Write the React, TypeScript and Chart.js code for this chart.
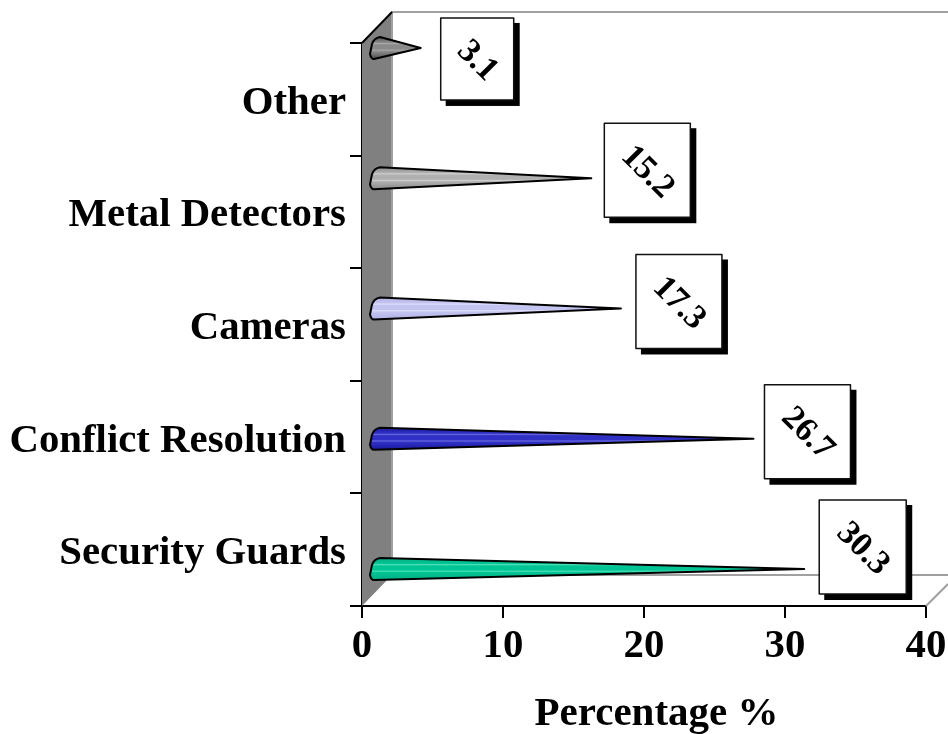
import React, { useEffect, useRef } from "react";
import { Chart, registerables } from "chart.js";

Chart.register(...registerables);

const categories = ["Other", "Metal Detectors", "Cameras", "Conflict Resolution", "Security Guards"];
const percentages = [3.1, 15.2, 17.3, 26.7, 30.3];
const valueLabels = ["3.1", "15.2", "17.3", "26.7", "30.3"];
const coneSlots = [4, 3, 2, 1, 0];
const xTicks = [0, 10, 20, 30, 40];
const axisTitle = "Percentage %";
const coneColors = [
  ["#4e4e4e", "#8a8a8a", "#a8a8a8"],
  ["#8a8a8a", "#b0b0b0", "#d0d0d0"],
  ["#b0b0e4", "#c4c4f0", "#e0e0fa"],
  ["#1a1aa0", "#3030c4", "#6a6ae0"],
  ["#00b084", "#00c494", "#50e0b8"],
];

const FONT = '"Liberation Serif", "Times New Roman", serif';
const DEPTH_X = 30;
const DEPTH_Y = 31;
const CONE_SHIFT = 15;
const boxSizes = [[73, 82], [86, 94], [86, 94], [86, 94], [87, 94]];
const boxOffsets = [[20, 11], [13, -8], [15, -7], [11, -7], [15, -22]];

const sceneryPlugin = {
  id: "scenery",
  beforeDraw(chart: any) {
    const yItems = chart.scales.y.getLabelItems();
    yItems.forEach((item: any) => { item.textOffset = 4; });
  },
  beforeDatasetsDraw(chart: any) {
    const { ctx, chartArea: a, width } = chart;
    const x0 = a.left, y0 = a.bottom, top = a.top;
    ctx.save();
    ctx.fillStyle = "#808080";
    ctx.beginPath();
    ctx.moveTo(x0, top);
    ctx.lineTo(x0 + DEPTH_X, top - DEPTH_Y);
    ctx.lineTo(x0 + DEPTH_X, y0 - DEPTH_Y);
    ctx.lineTo(x0, y0);
    ctx.closePath();
    ctx.fill();
    ctx.strokeStyle = "#a0a0a0";
    ctx.lineWidth = 2;
    ctx.beginPath();
    ctx.moveTo(x0 + DEPTH_X, y0 - DEPTH_Y);
    ctx.lineTo(x0 + DEPTH_X, top - DEPTH_Y);
    ctx.lineTo(width, top - DEPTH_Y);
    ctx.moveTo(x0 + DEPTH_X, y0 - DEPTH_Y);
    ctx.lineTo(width, y0 - DEPTH_Y);
    ctx.moveTo(a.right, y0);
    ctx.lineTo(width, y0 - 22);
    ctx.stroke();
    ctx.strokeStyle = "#000";
    ctx.beginPath();
    ctx.moveTo(x0, top);
    ctx.lineTo(x0 + DEPTH_X, top - DEPTH_Y);
    ctx.stroke();
    ctx.restore();
  },
  afterDatasetsDraw(chart: any) {
    const { ctx, chartArea: a } = chart;
    const meta = chart.getDatasetMeta(0);
    ctx.save();
    meta.data.forEach((bar: any, i: number) => {
      const tipX = bar.x + CONE_SHIFT;
      const cy = bar.y;
      const startX = a.left + 8;
      const grad = ctx.createLinearGradient(0, cy - 11, 0, cy + 11);
      const [dark, mid, light] = coneColors[i];
      grad.addColorStop(0, dark);
      grad.addColorStop(0.25, mid);
      grad.addColorStop(0.3, light);
      grad.addColorStop(0.36, mid);
      grad.addColorStop(0.55, mid);
      grad.addColorStop(0.6, light);
      grad.addColorStop(0.66, mid);
      grad.addColorStop(1, dark);
      ctx.fillStyle = grad;
      ctx.strokeStyle = "#000";
      ctx.lineWidth = 2;
      ctx.lineJoin = "round";
      ctx.beginPath();
      ctx.moveTo(tipX, cy);
      ctx.lineTo(startX + 10, cy - 11);
      ctx.quadraticCurveTo(startX + 4, cy - 10, startX + 2, cy - 4);
      ctx.lineTo(startX, cy + 6);
      ctx.quadraticCurveTo(startX + 1, cy + 11, startX + 4, cy + 11);
      ctx.closePath();
      ctx.fill();
      ctx.stroke();

      const [bw, bh] = boxSizes[i];
      const [ox, oy] = boxOffsets[i];
      const left = tipX + ox;
      const bcy = cy + oy;
      const topY = bcy - bh / 2;
      ctx.fillStyle = "#000";
      ctx.fillRect(left + 5, topY + 5, bw + 1, bh + 1);
      ctx.fillStyle = "#fff";
      ctx.fillRect(left, topY, bw, bh);
      ctx.lineWidth = 1.5;
      ctx.strokeStyle = "#111";
      ctx.strokeRect(left, topY, bw, bh);
      ctx.save();
      ctx.translate(left + bw / 2, bcy + 2);
      ctx.rotate(Math.PI / 4);
      ctx.fillStyle = "#000";
      ctx.font = `bold 34px ${FONT}`;
      ctx.textAlign = "center";
      ctx.textBaseline = "middle";
      ctx.fillText(valueLabels[i], 0, 0);
      ctx.restore();
    });
    ctx.fillStyle = "#000";
    ctx.font = `bold 41px ${FONT}`;
    ctx.textAlign = "center";
    ctx.textBaseline = "middle";
    ctx.fillText(axisTitle, 656.5, 714);
    ctx.restore();
  },
};

export default function App() {
  const ref = useRef<HTMLCanvasElement>(null);
  useEffect(() => {
    const chart = new Chart(ref.current as HTMLCanvasElement, {
      type: "bar",
      data: {
        datasets: [
          {
            label: axisTitle,
            data: percentages.map((v, i) => ({ x: v, y: coneSlots[i] })),
            xAxisID: "x",
            yAxisID: "yCone",
            backgroundColor: "rgba(0,0,0,0)",
            borderWidth: 0,
          },
        ],
      },
      options: {
        indexAxis: "y",
        animation: false,
        responsive: false,
        layout: { padding: { top: 43, right: 22, left: 0, bottom: 0 } },
        plugins: { legend: { display: false }, tooltip: { enabled: false }, title: { display: false } },
        scales: {
          x: {
            type: "linear",
            min: 0,
            max: 40,
            afterFit: (s: any) => { s.height = 128; s.paddingRight = 0; s.paddingLeft = 0; },
            afterBuildTicks: (s: any) => { s.ticks = xTicks.map((value) => ({ value })); },
            grid: { display: true, drawOnChartArea: false, drawTicks: true, tickLength: 12, tickColor: "#000", tickWidth: 2, lineWidth: 2, color: "#000" },
            border: { display: true, color: "#000", width: 2 },
            ticks: { color: "#000", font: { family: FONT, weight: "bold", size: 40.8 }, padding: 4, maxRotation: 0, autoSkip: false },
          },
          y: {
            type: "category",
            labels: categories,
            offset: true,
            position: "left",
            afterFit: (s: any) => { s.width = 362; s.paddingTop = 0; s.paddingBottom = 0; },
            grid: { display: true, offset: true, drawOnChartArea: false, drawTicks: true, tickLength: 12, tickColor: "#000", tickWidth: 2, lineWidth: 2, color: "#000" },
            border: { display: true, color: "#000", width: 2 },
            ticks: { color: "#000", font: { family: FONT, weight: "bold", size: 40.8 }, padding: 4, autoSkip: false },
          },
          yCone: {
            type: "linear",
            display: false,
            offset: false,
            min: -0.284,
            max: 4.038,
          },
        },
      } as any,
      plugins: [sceneryPlugin],
    });
    return () => chart.destroy();
  }, []);
  return (
    <canvas
      ref={ref}
      width={948}
      height={734}
      style={{ position: "absolute", left: 0, top: 0, width: 948, height: 734, display: "block" }}
    />
  );
}
